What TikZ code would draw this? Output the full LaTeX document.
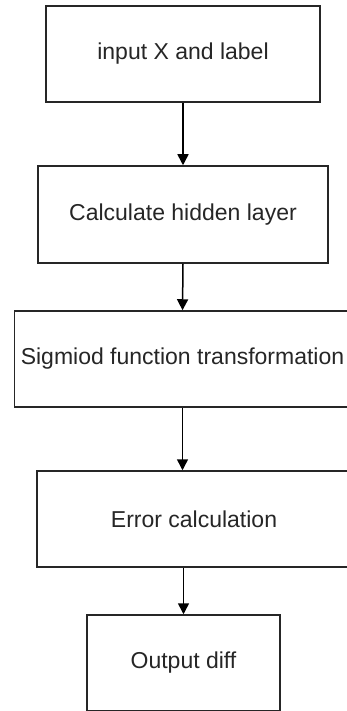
\documentclass[tikz,border=0pt]{standalone}
\usepackage{fontspec}
\setmainfont{Liberation Sans}
\usetikzlibrary{arrows.meta}
\begin{document}
\begin{tikzpicture}[x=1pt,y=-1pt,
  box/.style={draw=black!85, line width=1.5pt, rectangle, inner sep=0pt,
    font=\fontsize{23}{27}\selectfont, text=black!85},
  arr/.style={draw=black, line width=1.5pt, -{Triangle[width=11pt,length=11pt]}}]
\clip (0,0) rectangle (347,711);
\fill[white] (0,0) rectangle (347,711);
\node[box, minimum width=274pt, minimum height=96pt] (b1) at (183,54) {input X and label};
\node[box, minimum width=290pt, minimum height=97pt] (b2) at (183,214.5) {Calculate hidden layer};
\node[box, minimum width=336pt, minimum height=96pt] (b3) at (182.5,359) {Sigmiod function transformation};
\node[box, minimum width=314pt, minimum height=96pt] (b4) at (194,519) {Error calculation};
\node[box, minimum width=193pt, minimum height=96pt] (b5) at (183.5,663) {Output diff};
\draw[arr] (b1.south) -- (b2.north);
\draw[arr] (b2.south) -- (b3.north);
\draw[arr] (b3.south) -- (b3.south |- b4.north);
\draw[arr] (b4.south -| b5.north) -- (b5.north);
\end{tikzpicture}
\end{document}
